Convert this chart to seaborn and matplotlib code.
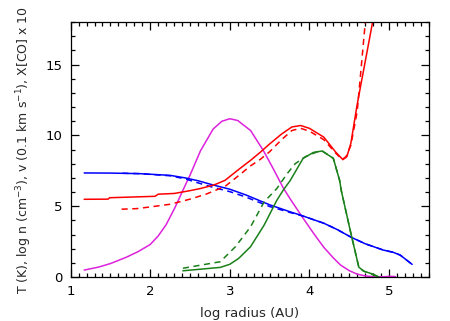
import pandas as pd
import matplotlib
matplotlib.use("Agg")
import matplotlib.pyplot as plt
from matplotlib.ticker import MultipleLocator
import seaborn as sns

# Curves (x = log radius in AU)
mag_x = [1.17, 1.35, 1.5, 1.7, 1.85, 2.0, 2.1, 2.2, 2.31, 2.4, 2.5, 2.63, 2.79, 2.9, 3.0,
         3.1, 3.26, 3.42, 3.55, 3.67, 3.76, 3.89, 4.05, 4.18, 4.3, 4.39, 4.5, 4.6, 4.7,
         4.8, 4.95, 5.0, 5.08]
mag_y = [0.49, 0.7, 0.95, 1.4, 1.8, 2.3, 2.9, 3.7, 4.9, 6.0, 7.2, 8.9, 10.45, 11.0, 11.18,
         11.05, 10.35, 8.94, 7.6, 6.3, 5.5, 4.4, 3.1, 2.1, 1.35, 0.85, 0.45, 0.2, 0.08,
         0.02, 0.02, 0.05, 0.03]

blue_x = [1.17, 1.5, 1.87, 2.25, 2.44, 2.6, 2.79, 3.0, 3.2, 3.5, 3.76, 3.89, 4.0, 4.18,
          4.35, 4.52, 4.7, 4.93, 5.05, 5.14, 5.22, 5.29]
blue_y = [7.35, 7.34, 7.3, 7.18, 7.0, 6.8, 6.5, 6.2, 5.8, 5.1, 4.6, 4.37, 4.15, 3.8,
          3.35, 2.82, 2.35, 1.9, 1.75, 1.55, 1.2, 0.89]
blue_d_x = [1.65, 1.87, 2.25, 2.44, 2.6, 2.79, 3.0, 3.2, 3.5, 3.76, 3.89, 4.0, 4.18,
            4.35, 4.52, 4.7, 4.93, 5.05, 5.14, 5.22, 5.29]
blue_d_y = [7.33, 7.3, 7.15, 6.93, 6.65, 6.33, 6.03, 5.65, 4.98, 4.55, 4.35, 4.15, 3.8,
            3.35, 2.82, 2.35, 1.9, 1.75, 1.55, 1.2, 0.89]

red_x = [1.17, 1.47, 1.49, 2.06, 2.1, 2.3, 2.5, 2.63, 2.8, 2.94, 3.13, 3.26, 3.38, 3.5,
         3.65, 3.78, 3.89, 4.0, 4.18, 4.33, 4.42, 4.47, 4.52, 4.6, 4.7, 4.79, 4.82]
red_y = [5.49, 5.5, 5.6, 5.7, 5.85, 5.9, 6.1, 6.25, 6.5, 6.83, 7.68, 8.24, 8.8, 9.4,
         10.1, 10.6, 10.7, 10.5, 9.88, 8.82, 8.29, 8.5, 9.44, 12.2, 15.2, 17.9, 18.8]
red_d_x = [1.64, 1.83, 2.0, 2.25, 2.5, 2.7, 2.94, 3.13, 3.26, 3.38, 3.5, 3.65, 3.78,
           3.89, 4.0, 4.18, 4.33, 4.41, 4.46, 4.52, 4.6, 4.7, 4.72]
red_d_y = [4.79, 4.83, 4.95, 5.14, 5.5, 5.85, 6.4, 7.25, 7.85, 8.3, 8.85, 9.7, 10.35,
           10.5, 10.3, 9.7, 8.75, 8.3, 8.5, 9.3, 11.7, 17.9, 18.5]

green_x = [2.41, 2.88, 3.0, 3.11, 3.26, 3.43, 3.59, 3.67, 3.76, 3.92, 4.05, 4.16, 4.3,
           4.38, 4.4, 4.52, 4.62, 4.68, 4.8, 4.87]
green_y = [0.44, 0.68, 0.9, 1.31, 2.14, 3.66, 5.42, 6.13, 6.83, 8.38, 8.8, 8.9, 8.38,
           6.8, 6.1, 3.1, 0.7, 0.42, 0.2, 0.02]
green_d_x = [2.41, 2.88, 3.07, 3.26, 3.43, 3.59, 3.72, 3.82, 3.95, 4.1, 4.16, 4.3, 4.38,
             4.4, 4.52, 4.62, 4.68, 4.8, 4.87]
green_d_y = [0.62, 1.08, 2.14, 3.54, 5.3, 6.25, 7.3, 8.0, 8.5, 8.85, 8.9, 8.38, 6.8,
             6.1, 3.1, 0.7, 0.42, 0.15, 0.0]

sns.set_theme(style="ticks")
plt.rcParams['font.family'] = ['DejaVu Sans']

fig = plt.figure(figsize=(4.5, 3.21), dpi=100)
ax = fig.add_axes([0.157, 0.137, 0.796, 0.794])

curves = [
    (mag_x, mag_y, '#dd22dd', '-'),
    (blue_x, blue_y, '#0000ff', '-'),
    (blue_d_x, blue_d_y, '#0000ff', '--'),
    (red_x, red_y, '#ff0000', '-'),
    (red_d_x, red_d_y, '#ff0000', '--'),
    (green_x, green_y, '#1a801a', '-'),
    (green_d_x, green_d_y, '#1a801a', '--'),
]
for xs, ys, col, ls in curves:
    kw = dict(dashes=(4, 3)) if ls == '--' else {}
    line = sns.lineplot(x=xs, y=ys, ax=ax, color=col, lw=1.1, sort=False)
    if ls == '--':
        ax.lines[-1].set_dashes((4, 3))

ax.set_xlim(1, 5.5)
ax.set_ylim(0, 18)
ax.xaxis.set_major_locator(MultipleLocator(1))
ax.xaxis.set_minor_locator(MultipleLocator(0.1))
ax.yaxis.set_major_locator(MultipleLocator(5))
ax.yaxis.set_minor_locator(MultipleLocator(1))
ax.tick_params(which='both', direction='in', top=True, right=True, colors='black',
               labelsize=9.5, width=0.9)
ax.tick_params(which='major', length=6, pad=6)
ax.tick_params(which='minor', length=3)
for sp in ax.spines.values():
    sp.set_color('black')
    sp.set_linewidth(0.9)

ax.set_xlabel('log radius (AU)', fontsize=9.5, labelpad=6)
ax.set_ylabel('T (K), log n (cm$^{-3}$), v (0.1 km s$^{-1}$), X[CO] x 10',
              fontsize=9, labelpad=8)

fig.savefig('out.png', dpi=100)
